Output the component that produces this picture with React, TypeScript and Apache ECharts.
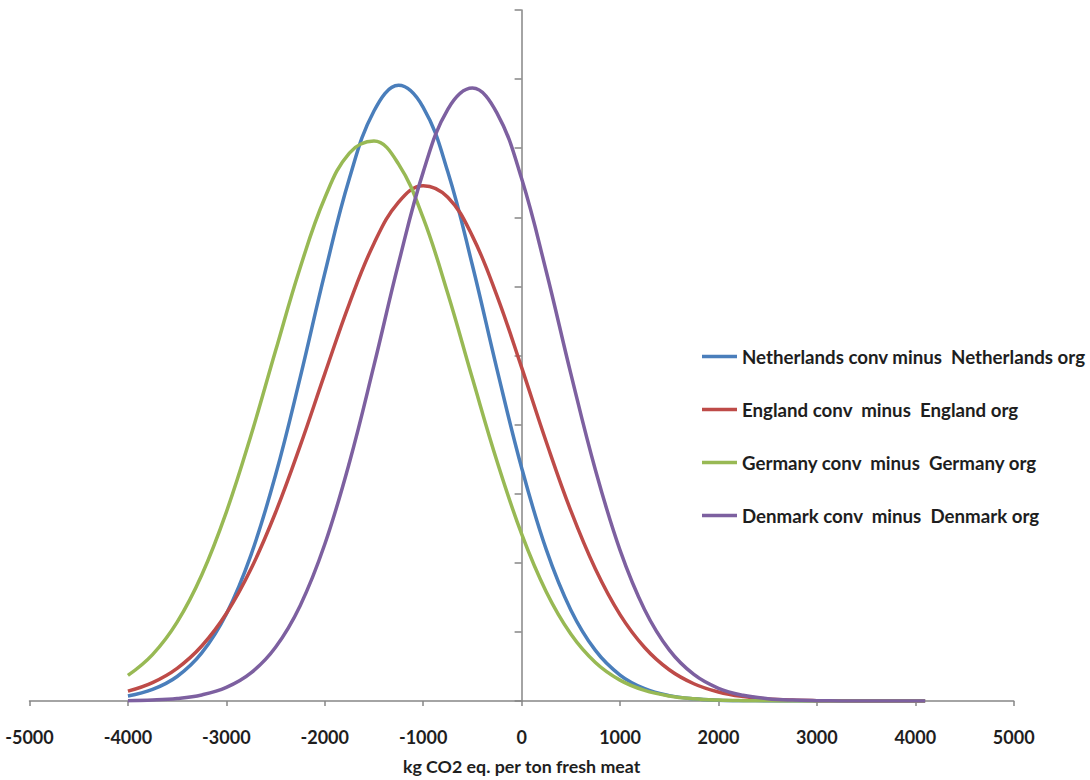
import React, { useEffect, useRef } from "react";
import * as echarts from "echarts";

// x positions (kg CO2 eq. per ton fresh meat)
const xValues = [
  -4000, -3750, -3500, -3250, -3000, -2750, -2500, -2250, -2000, -1750, -1500, -1250,
  -1000, -750, -500, -250, 0, 250, 500, 750, 1000, 1250, 1500, 1750, 2000, 2250,
  2500, 2750, 3000, 3250, 3500, 3750, 4000, 4100,
];

// probability density values, in units of 1e-4
const netherlands = [
  0.0364, 0.0835, 0.1773, 0.348, 0.63, 1.056, 1.635, 2.34, 3.094, 3.78, 4.269, 4.455,
  4.296, 3.829, 3.153, 2.4, 1.688, 1.097, 0.659, 0.366, 0.188, 0.089, 0.039, 0.016, 0.006, 0.002,
  0.0007, 0.0002, 0.0001, 0, 0, 0, 0, 0,
];
const england = [
  0.0712, 0.1333, 0.2365, 0.398, 0.633, 0.955, 1.364, 1.846, 2.367, 2.876, 3.311, 3.61,
  3.729, 3.645, 3.364, 2.932, 2.414, 1.876, 1.377, 0.955, 0.625, 0.387, 0.226, 0.125, 0.065, 0.032,
  0.015, 0.0065, 0.0027, 0.0011, 0.0004, 0.0001, 0, 0,
];
const germany = [
  0.185, 0.336, 0.571, 0.912, 1.367, 1.921, 2.534, 3.135, 3.64, 3.965, 4.052, 3.885,
  3.495, 2.949, 2.335, 1.735, 1.209, 0.791, 0.485, 0.279, 0.151, 0.0765, 0.0364, 0.0162, 0.0068, 0.0027,
  0.001, 0.0003, 0.0001, 0, 0, 0, 0, 0,
];
const denmark = [
  0.0025, 0.007, 0.0182, 0.044, 0.0981, 0.203, 0.389, 0.69, 1.134, 1.724, 2.428, 3.168,
  3.827, 4.281, 4.435, 4.254, 3.78, 3.11, 2.369, 1.672, 1.092, 0.661, 0.37, 0.192, 0.092, 0.041,
  0.017, 0.0065, 0.0023, 0.0007, 0.0002, 0.0001, 0, 0,
];

const seriesNames = [
  "Netherlands conv minus  Netherlands org",
  "England conv  minus  England org",
  "Germany conv  minus  Germany org",
  "Denmark conv  minus  Denmark org",
];
const seriesColors = ["#4A7EBB", "#BE4B48", "#98B954", "#7D60A0"];
const xTitle = "kg CO2 eq. per ton fresh meat";

const FONT = "Lato, 'Liberation Sans', sans-serif";
const TEXT = "#1e1e1e";
const AXIS = "#868686";

export default function App() {
  const ref = useRef<HTMLDivElement>(null);
  useEffect(() => {
    if (!ref.current) return;
    const chart = echarts.init(ref.current, undefined, { renderer: "svg" });
    const all = [netherlands, england, germany, denmark];
    chart.setOption({
      animation: false,
      backgroundColor: "#ffffff",
      grid: { left: 29.5, right: 76.3, top: 10, bottom: 70, containLabel: false },
      legend: {
        orient: "vertical",
        left: 697,
        top: 342,
        padding: 5,
        itemWidth: 35,
        itemHeight: 14,
        itemGap: 34,
        icon: "path://M0,5.75 L35,5.75 L35,9.25 L0,9.25 Z",
        textStyle: { fontFamily: FONT, fontWeight: "bold", fontSize: 18.7, color: TEXT },
        data: seriesNames.map((n, i) => ({ name: n, itemStyle: { color: seriesColors[i] } })),
      },
      xAxis: {
        type: "value",
        min: -5000,
        max: 5000,
        interval: 1000,
        name: xTitle,
        nameLocation: "middle",
        nameGap: 56,
        nameTextStyle: { fontFamily: FONT, fontWeight: "bold", fontSize: 17.8, color: TEXT },
        axisLine: { show: true, onZero: false, lineStyle: { color: AXIS, width: 1.5 } },
        axisTick: { show: true, length: 5, lineStyle: { color: AXIS, width: 1.5 } },
        axisLabel: {
          margin: 27,
          fontFamily: FONT,
          fontWeight: "bold",
          fontSize: 18,
          color: TEXT,
          formatter: (v: number) => String(v),
        },
        splitLine: { show: false },
      },
      yAxis: {
        type: "value",
        min: 0,
        max: 5,
        interval: 0.5,
        axisLine: { show: true, onZero: true, lineStyle: { color: AXIS, width: 1.5 } },
        axisTick: { show: true, length: 7, lineStyle: { color: AXIS, width: 1.5 } },
        axisLabel: { show: false },
        splitLine: { show: false },
      },
      series: all.map((vals, i) => ({
        name: seriesNames[i],
        type: "line",
        data: xValues.map((x, j) => [x, vals[j]]),
        showSymbol: false,
        symbol: "none",
        smooth: 0.4,
        lineStyle: { color: seriesColors[i], width: 3.5 },
        itemStyle: { color: seriesColors[i] },
      })),
    });
    return () => chart.dispose();
  }, []);
  return (
    <div
      ref={ref}
      style={{ position: "absolute", left: 0, top: 0, width: 1090, height: 780 }}
    />
  );
}
